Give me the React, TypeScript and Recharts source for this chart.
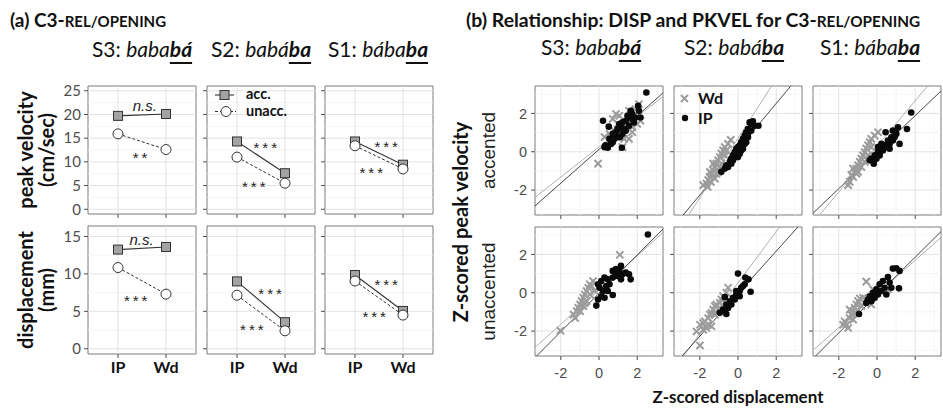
import React from 'react';
import {
  ComposedChart, Line, XAxis, YAxis, ReferenceLine, ReferenceArea, ReferenceDot,
  ScatterChart, Scatter,
} from 'recharts';

// ---------- shared labels ----------
const positions = ['IP', 'Wd'];
const stressNames = ['S3', 'S2', 'S1'];
const headerPlain = ['baba', 'babá', 'bába'];
const headerTarget = ['bá', 'ba', 'ba'];

// ---------- (a) means: [IP, Wd] per syllable S3, S2, S1 ----------
const pkvelAcc = [[19.7, 20.1], [14.3, 7.6], [14.3, 9.4]];
const pkvelUnacc = [[15.9, 12.6], [11.0, 5.5], [13.4, 8.5]];
const dispAcc = [[13.25, 13.6], [9.0, 3.55], [9.85, 5.05]];
const dispUnacc = [[10.85, 7.3], [7.15, 2.4], [9.05, 4.5]];

const pkvelTicks = [0, 5, 10, 15, 20, 25];
const pkvelMinor = [2.5, 7.5, 12.5, 17.5, 22.5];
const dispTicks = [0, 5, 10, 15];
const dispMinor = [2.5, 7.5, 12.5];

// significance labels (data coordinates)
const pkvelSig = [
  [{ x: 1.56, y: 21.6, t: 'n.s.' }, { x: 1.49, y: 11.7, t: '**' }],
  [{ x: 1.62, y: 13.8, t: '***' }, { x: 1.38, y: 5.6, t: '***' }],
  [{ x: 1.68, y: 14.0, t: '***' }, { x: 1.37, y: 8.4, t: '***' }],
];
const dispSig = [
  [{ x: 1.49, y: 14.45, t: 'n.s.' }, { x: 1.40, y: 6.9, t: '***' }],
  [{ x: 1.72, y: 7.85, t: '***' }, { x: 1.34, y: 3.05, t: '***' }],
  [{ x: 1.68, y: 9.0, t: '***' }, { x: 1.43, y: 4.8, t: '***' }],
];

// ---------- (b) z-scored scatter: [x displacement, y peak velocity] ----------
const ipAcc = [
  [[2.48, 3.09], [0.21, 1.62], [0.51, 1.31], [0.29, 0.24], [0.46, 0.21], [1.2, 0.21], [0.72, 0.5], [0.97, 0.76], [1.23, 0.93], [1.06, 1.45], [1.4, 1.62], [1.57, 1.79], [1.74, 1.97], [2.05, 2.4], [2.09, 2.14], [1.57, 1.36], [1.32, 1.19], [0.89, 1.02], [0.8, 0.67], [0.63, 0.41], [1.83, 1.53], [1.91, 1.79], [2.17, 1.79], [1.49, 1.88], [1.15, 1.28], [1.23, 1.53], [1.74, 1.71], [0.97, 1.19], [0.72, 0.93], [1.09, 0.76], [1.4, 1.1], [1.66, 2.14], [0.55, 0.67], [0.34, 0.33]],
  [[-0.87, -1.05], [-0.69, -0.88], [-0.61, -0.71], [-0.43, -0.53], [-0.35, -0.36], [-0.26, -0.19], [-0.17, -0.02], [-0.09, 0.16], [0, 0.24], [0.09, 0.33], [0.17, 0.5], [0.26, 0.67], [0.35, 0.84], [0.43, 1.02], [0.52, 1.19], [0.61, 1.53], [0.78, 1.59], [1.07, 1.36], [0.87, 1.36], [0.69, 1.45], [0.35, 0.41], [0.17, 0.07], [-0.09, -0.19], [-0.35, -0.62], [-0.52, -0.79], [0.09, -0.1], [0.26, 0.16], [0.43, 0.5], [0.52, 0.76], [-0.26, -0.45], [0, -0.28], [0.69, 1.1], [0.52, 0.93]],
  [[1.79, 2.05], [1.57, 1.19], [1.18, 0.41], [0.45, 1.02], [0.83, 1.1], [1.1, 1.28], [1.01, 0.93], [0.75, 0.76], [0.57, 0.59], [0.4, 0.33], [0.23, 0.16], [0.05, -0.02], [-0.12, -0.19], [-0.3, -0.36], [-0.17, -0.62], [0.14, -0.19], [0.31, 0.07], [0.49, 0.24], [0.66, 0.41], [0.83, 0.59], [0.92, 0.76], [-0.03, -0.36], [-0.38, -0.45], [0.23, 0.41], [0.66, 0.16], [0.05, 0.24], [0.97, 1.07]],
];
const wdAcc = [
  [[-0.05, -0.62], [0.89, 1.97], [2.09, 2.48], [0.29, 0.76], [1.57, 0.67], [1.23, 0.24], [1.74, 1.28], [2.17, 1.62], [1.91, 2.22], [0.72, 1.71], [1.06, 1.88], [1.49, 1.45], [1.74, 1.02], [0.55, 0.93], [1.32, 0.67], [1.83, 1.88], [0.97, 1.45], [0.8, 1.1], [2.0, 1.45], [1.57, 2.14]],
  [[-1.82, -1.74], [-1.65, -1.66], [-1.56, -1.48], [-1.47, -1.31], [-1.39, -1.14], [-1.3, -0.97], [-1.21, -0.79], [-1.13, -0.62], [-1.04, -0.45], [-0.95, -0.28], [-0.87, -0.1], [-0.78, 0.07], [-0.69, 0.24], [-0.52, 0.41], [-0.38, 0.62], [-1.59, -1.83], [-1.42, -1.57], [-1.21, -1.4], [-1.04, -1.05], [-0.87, -0.62], [-1.3, -0.62], [-1.13, -1.14], [-0.69, -0.19], [-0.95, -0.79], [-0.61, 0.07], [-1.47, -1.05]],
  [[-1.43, -1.57], [-1.25, -1.31], [-1.17, -1.05], [-1.08, -0.88], [-0.99, -0.71], [-0.9, -0.53], [-0.82, -0.36], [-0.73, -0.19], [-0.64, -0.02], [-0.56, 0.16], [-0.47, 0.33], [-0.38, 0.5], [-0.3, 0.67], [-0.12, 0.84], [0.05, 1.02], [-1.34, -1.22], [-1.08, -1.14], [-0.82, -0.79], [-0.64, -0.53], [-0.47, -0.19], [-1.25, -0.88], [-0.99, -1.05], [-0.3, 0.24], [-1.51, -1.74]],
];
const ipUnacc = [
  [[2.56, 3.04], [1.15, 1.4], [0.89, 1.23], [0.72, 1.14], [1.57, 0.96], [1.66, 0.7], [1.4, 1.05], [1.23, 0.96], [0.97, 0.88], [0.72, 0.79], [0.46, 0.7], [0.29, 0.79], [0.12, 0.61], [-0.05, 0.44], [0.03, 0.26], [0.21, 0.09], [0.38, 0.35], [0.55, 0.44], [0.12, -0.18], [0.29, -0.26], [0.72, -0.12], [-0.14, -0.67], [-0.05, -0.35], [0.89, 0.96], [1.06, 1.14], [0.46, 0.09], [1.15, 0.7]],
  [[0, 1.0], [0.38, 0.79], [0.55, 0.7], [0.66, 0.05], [0.26, 0.35], [0.09, 0.09], [-0.09, -0.09], [-0.26, -0.26], [-0.43, -0.44], [-0.61, -0.61], [-0.78, -0.88], [-0.95, -1.05], [-0.61, -1.11], [-0.69, -0.23], [0.17, 0.26], [-0.17, -0.35], [-0.35, -0.61], [-0.52, -0.79], [0.35, 0.44], [0.09, -0.18], [-0.09, 0.09]],
  [[0.83, 1.26], [1.01, 1.28], [1.18, 1.14], [1.15, 0.23], [0.57, 0.82], [0.31, 0.61], [0.14, 0.44], [-0.03, 0.18], [-0.21, 0], [-0.38, -0.18], [-0.47, -0.35], [-0.56, -0.53], [-0.94, -1.11], [0.23, 0.09], [0.4, 0.26], [0.66, 0.53], [0.05, -0.09], [-0.12, -0.26], [-0.3, -0.44], [0.49, -0.09], [0.75, 0.26]],
];
const wdUnacc = [
  [[1.09, 1.98], [-2.02, -1.98], [-1.33, -1.14], [-1.16, -0.96], [-1.08, -0.79], [-0.99, -0.61], [-0.91, -0.44], [-0.82, -0.26], [-0.74, -0.09], [-0.65, 0.09], [-0.56, 0.26], [-0.48, 0.44], [-0.39, 0.35], [-1.25, -1.32], [-0.99, -0.96], [-0.82, -0.7], [-0.65, -0.44], [-0.48, -0.09], [-0.22, 0.09], [-0.31, 0.61], [0.03, 0.35], [-0.74, -0.53]],
  [[-1.99, -2.75], [-0.52, 0.26], [-2.17, -2.02], [-1.99, -1.67], [-1.82, -1.58], [-1.73, -1.49], [-1.56, -1.32], [-1.47, -1.14], [-1.39, -1.05], [-1.3, -0.88], [-1.21, -0.7], [-1.13, -0.61], [-0.95, -0.53], [-0.87, -0.35], [-0.78, -0.18], [-0.61, 0], [-1.39, -1.75], [-1.65, -1.84], [-1.21, -1.14], [-1.04, -0.88], [-1.82, -1.93], [-1.56, -1.67]],
  [[-0.56, 0.58], [-1.69, -1.49], [-1.6, -1.67], [-1.51, -1.84], [-1.43, -1.32], [-1.34, -1.14], [-1.25, -0.96], [-1.17, -0.79], [-1.08, -0.61], [-0.99, -0.44], [-0.9, -0.3], [-0.73, -0.26], [-0.47, -0.44], [-0.3, -0.61], [-1.77, -1.67], [-1.25, -1.4], [-1.08, -1.05], [-0.82, -0.7], [-1.43, -0.88], [-0.21, 0.18], [0.57, 0.18]],
];

// regression fits: slope / intercept, per syllable S3, S2, S1
const ipAccSlope = [0.88, 1.195, 0.952];
const ipAccInt = [0.12, 0.13, -0.02];
const wdAccSlope = [0.786, 1.55, 1.19];
const wdAccInt = [0.25, 0.7, 0.28];
const ipUnaccSlope = [1.0, 1.11, 0.988];
const ipUnaccInt = [-0.03, -0.05, -0.12];
const wdUnaccSlope = [0.894, 1.335, 0.878];
const wdUnaccInt = [0.14, 0.52, -0.06];

const zTicks = [-2, 0, 2];
const zMinor = [-3, -1, 1, 3];

// ---------- geometry / style ----------
const A_LEFTS = [88, 207, 325];
const A_W = 108;
const A_TOPS = [86, 226];
const A_H = 128;
const A_XD: [number, number] = [0.375, 2.625];
const B_LEFTS = [535, 674, 813];
const B_W = 128;
const B_TOPS = [86, 227];
const B_H = 129;
const B_XD: [number, number] = [-3.35, 3.35];
const B_YD: [number, number] = [-3.3, 3.43];
const TOP_PAD = 10;

const MAJOR = '#e2e2e2';
const MINOR = '#f3f3f3';
const BORDER = '#7a7a7a';
const TICK = '#4d4d4d';
const CAL = 'Lato, "Open Sans", sans-serif';
const ARIAL = '"Liberation Sans", Arial, sans-serif';

const SquareDot = (p: any) => (
  <rect x={p.cx - 4.5} y={p.cy - 4.5} width={9} height={9} fill="#a3a3a3" stroke="#333" strokeWidth={1} />
);
const CircleDot = (p: any) => (
  <circle cx={p.cx} cy={p.cy} r={5} fill="#fff" stroke="#333" strokeWidth={1} />
);
const CrossShape = (p: any) => {
  const s = 3.6;
  return (
    <path d={`M${p.cx - s},${p.cy - s}L${p.cx + s},${p.cy + s}M${p.cx - s},${p.cy + s}L${p.cx + s},${p.cy - s}`}
      stroke="#9c9c9c" strokeWidth={2} fill="none" />
  );
};
const BlackDot = (p: any) => <circle cx={p.cx} cy={p.cy} r={3.3} fill="#0a0a0a" />;

const SigText = ({ cx, cy, text }: any) => {
  const stars = text !== 'n.s.';
  return (
    <text x={cx} y={cy + (stars ? 9 : 4)} textAnchor="middle" fontFamily={ARIAL}
      fontSize={15} fontStyle={stars ? 'normal' : 'italic'}
      letterSpacing={stars ? 3 : 0} fill="#222">{text}</text>
  );
};

const PanelA = ({ col, row }: { col: number; row: number }) => {
  const acc = row === 0 ? pkvelAcc[col] : dispAcc[col];
  const unacc = row === 0 ? pkvelUnacc[col] : dispUnacc[col];
  const sig = row === 0 ? pkvelSig[col] : dispSig[col];
  const data = positions.map((p, i) => ({ pos: i + 1, name: p, acc: acc[i], unacc: unacc[i] }));
  const domain: [number, number] = row === 0 ? [-1, 26] : [-0.7, 16.4];
  const major = row === 0 ? pkvelTicks : dispTicks;
  const minor = row === 0 ? pkvelMinor : dispMinor;
  const yW = col === 0 ? 44 : 6;
  const xH = row === 1 ? 30 : 6;
  return (
    <div style={{ position: 'absolute', left: A_LEFTS[col] - yW, top: A_TOPS[row] - TOP_PAD }}>
      <ComposedChart width={yW + A_W + 1} height={TOP_PAD + A_H + xH} data={data}
        margin={{ top: TOP_PAD, right: 1, bottom: 0, left: 0 }}>
        <XAxis dataKey="pos" type="number" domain={A_XD} ticks={[1, 2]} allowDataOverflow interval={0}
          tickFormatter={(v: number) => (row === 1 ? positions[v - 1] : '')} height={xH}
          axisLine={false} tickSize={4} tickMargin={4} tickLine={{ stroke: TICK }}
          tick={{ fontFamily: CAL, fontWeight: 'bold', fontSize: 16, fill: '#111' }} />
        <YAxis type="number" domain={domain} ticks={major} allowDataOverflow interval={0} width={yW}
          tickFormatter={(v: number) => (col === 0 ? String(v) : '')}
          axisLine={false} tickSize={4} tickMargin={3} tickLine={{ stroke: TICK }}
          tick={{ fontFamily: CAL, fontSize: 15, fill: TICK }} />
        {minor.map((v) => <ReferenceLine key={'m' + v} y={v} stroke={MINOR} strokeWidth={0.8} />)}
        {major.map((v) => <ReferenceLine key={'M' + v} y={v} stroke={MAJOR} strokeWidth={1} />)}
        {[1, 2].map((v) => <ReferenceLine key={'v' + v} x={v} stroke={MAJOR} strokeWidth={1} />)}
        <Line dataKey="acc" type="linear" stroke="#333" strokeWidth={1.1} dot={SquareDot}
          activeDot={false} isAnimationActive={false} />
        <Line dataKey="unacc" type="linear" stroke="#333" strokeWidth={1} strokeDasharray="3 2"
          dot={CircleDot} activeDot={false} isAnimationActive={false} />
        {sig.map((s, i) => (
          <ReferenceDot key={'s' + i} x={s.x} y={s.y} r={0} ifOverflow="visible"
            shape={(p: any) => <SigText cx={p.cx} cy={p.cy} text={s.t} />} />
        ))}
        <ReferenceArea x1={A_XD[0]} x2={A_XD[1]} y1={domain[0]} y2={domain[1]} fill="none"
          fillOpacity={0} stroke={BORDER} strokeWidth={1} ifOverflow="visible" />
      </ComposedChart>
    </div>
  );
};

const PanelB = ({ col, row }: { col: number; row: number }) => {
  const wd = (row === 0 ? wdAcc : wdUnacc)[col].map(([x, y]) => ({ x, y }));
  const ip = (row === 0 ? ipAcc : ipUnacc)[col].map(([x, y]) => ({ x, y }));
  const fits = row === 0
    ? [{ b: wdAccSlope[col], a: wdAccInt[col], c: '#a8a8a8' }, { b: ipAccSlope[col], a: ipAccInt[col], c: '#333' }]
    : [{ b: wdUnaccSlope[col], a: wdUnaccInt[col], c: '#a8a8a8' }, { b: ipUnaccSlope[col], a: ipUnaccInt[col], c: '#333' }];
  const yW = col === 0 ? 40 : 6;
  const xH = row === 1 ? 30 : 6;
  return (
    <div style={{ position: 'absolute', left: B_LEFTS[col] - yW, top: B_TOPS[row] - TOP_PAD }}>
      <ScatterChart width={yW + B_W + 1} height={TOP_PAD + B_H + xH}
        margin={{ top: TOP_PAD, right: 1, bottom: 0, left: 0 }}>
        <XAxis dataKey="x" type="number" domain={B_XD} ticks={zTicks} allowDataOverflow interval={0}
          tickFormatter={(v: number) => (row === 1 ? String(v) : '')} height={xH}
          axisLine={false} tickSize={4} tickMargin={8} tickLine={{ stroke: TICK }}
          tick={{ fontFamily: ARIAL, fontSize: 14.5, fill: TICK }} />
        <YAxis dataKey="y" type="number" domain={B_YD} ticks={zTicks} allowDataOverflow interval={0} width={yW}
          tickFormatter={(v: number) => (col === 0 ? String(v) : '')}
          axisLine={false} tickSize={4} tickMargin={4} tickLine={{ stroke: TICK }}
          tick={{ fontFamily: ARIAL, fontSize: 14.5, fill: TICK }} />
        {zMinor.map((v) => <ReferenceLine key={'mh' + v} y={v} stroke={MINOR} strokeWidth={0.8} />)}
        {zMinor.map((v) => <ReferenceLine key={'mv' + v} x={v} stroke={MINOR} strokeWidth={0.8} />)}
        {zTicks.map((v) => <ReferenceLine key={'Mh' + v} y={v} stroke={MAJOR} strokeWidth={1} />)}
        {zTicks.map((v) => <ReferenceLine key={'Mv' + v} x={v} stroke={MAJOR} strokeWidth={1} />)}
        <Scatter data={wd} shape={CrossShape} isAnimationActive={false} />
        <Scatter data={ip} shape={BlackDot} isAnimationActive={false} />
        {fits.map((f, i) => (
          <ReferenceLine key={'f' + i} ifOverflow="hidden" stroke={f.c} strokeWidth={0.9}
            segment={[{ x: B_XD[0], y: f.a + f.b * B_XD[0] }, { x: B_XD[1], y: f.a + f.b * B_XD[1] }]} />
        ))}
        <ReferenceArea x1={B_XD[0]} x2={B_XD[1]} y1={B_YD[0]} y2={B_YD[1]} fill="none"
          fillOpacity={0} stroke={BORDER} strokeWidth={1} ifOverflow="visible" />
      </ScatterChart>
    </div>
  );
};

const Header = ({ i, cx, baseline }: { i: number; cx: number; baseline: number }) => (
  <div style={{
    position: 'absolute', left: cx - 90, width: 180, top: baseline - 0.887 * 21, fontSize: 21,
    lineHeight: '21px', textAlign: 'center', fontFamily: CAL, whiteSpace: 'nowrap', color: '#111',
  }}>
    {stressNames[i]}: <i>{headerPlain[i]}</i>
    <b><i style={{ textDecoration: 'underline', textUnderlineOffset: '5px', textDecorationThickness: '2px' }}>{headerTarget[i]}</i></b>
  </div>
);

const aHeaderX = [142, 261, 378];
const bHeaderX = [591, 734, 870];

export default function App() {
  return (
    <div style={{ position: 'absolute', left: 0, top: 0, width: 943, height: 408, background: '#fff', overflow: 'hidden' }}>
      {[0, 1].map((row) => [0, 1, 2].map((col) => <PanelA key={`a${row}${col}`} row={row} col={col} />))}
      {[0, 1].map((row) => [0, 1, 2].map((col) => <PanelB key={`b${row}${col}`} row={row} col={col} />))}
      {[0, 1, 2].map((i) => <Header key={'ha' + i} i={i} cx={aHeaderX[i]} baseline={57} />)}
      {[0, 1, 2].map((i) => <Header key={'hb' + i} i={i} cx={bHeaderX[i]} baseline={55} />)}
      <svg width={943} height={408} style={{ position: 'absolute', left: 0, top: 0, pointerEvents: 'none' }}>
        <g fontFamily={CAL} fontWeight="bold" fill="#111">
          <text x={10} y={27} fontSize={19}>(a) C3-<tspan fontSize={15}>REL/OPENING</tspan></text>
          <text x={466} y={27} fontSize={19.4}>(b) Relationship: DISP and PKVEL for C3-<tspan fontSize={15.3}>REL/OPENING</tspan></text>
          <text transform="translate(33,150) rotate(-90)" textAnchor="middle" fontSize={20}>peak velocity</text>
          <text transform="translate(54,150) rotate(-90)" textAnchor="middle" fontSize={20}>(cm/sec)</text>
          <text transform="translate(33,290) rotate(-90)" textAnchor="middle" fontSize={20}>displacement</text>
          <text transform="translate(54,290) rotate(-90)" textAnchor="middle" fontSize={20}>(mm)</text>
          <text transform="translate(468,222) rotate(-90)" textAnchor="middle" fontSize={20}>Z-scored peak velocity</text>
          <text x={738} y={403} textAnchor="middle" fontSize={17}>Z-scored displacement</text>
          <text x={246} y={99} fontSize={14.5}>acc.</text>
          <text x={246} y={116} fontSize={14.5}>unacc.</text>
          <text x={698} y={104} fontSize={16}>Wd</text>
          <text x={698} y={124} fontSize={16}>IP</text>
        </g>
        <g fontFamily={ARIAL} fontSize={19} fill="#222">
          <text transform="translate(495,150.5) rotate(-90)" textAnchor="middle">accented</text>
          <text transform="translate(495,291.5) rotate(-90)" textAnchor="middle">unaccented</text>
        </g>
        <line x1={215} y1={95} x2={234} y2={95} stroke="#333" strokeWidth={1.1} />
        <rect x={220} y={90.5} width={9} height={9} fill="#a3a3a3" stroke="#333" strokeWidth={1} />
        <line x1={215} y1={111.5} x2={236} y2={111.5} stroke="#333" strokeWidth={1} strokeDasharray="3 2" />
        <circle cx={226} cy={111.5} r={5} fill="#fff" stroke="#333" strokeWidth={1} />
        <path d="M681,95L688,102M681,102L688,95" stroke="#9c9c9c" strokeWidth={2} />
        <circle cx={685} cy={118} r={3.2} fill="#0a0a0a" />
      </svg>
    </div>
  );
}
